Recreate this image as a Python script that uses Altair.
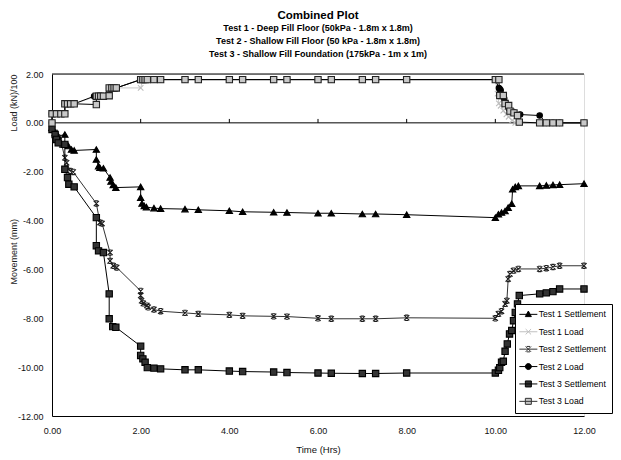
import altair as alt
import pandas as pd

# ---------------- data (time in hrs, value) ----------------
test1_settlement = [(0.0,-0.2),(0.07,-0.41),(0.14,-0.54),(0.29,-0.48),(0.29,-0.88),(0.37,-0.95),(0.44,-1.09),(0.5,-1.13),
    (1.0,-1.09),(1.0,-1.5),(1.05,-1.77),(1.08,-1.84),(1.16,-1.86),(1.31,-2.24),(1.33,-2.4),(1.38,-2.54),(1.44,-2.65),
    (2.0,-2.62),(2.0,-3.06),(2.03,-3.3),(2.08,-3.4),(2.13,-3.45),(2.3,-3.49),(2.45,-3.51),(3.0,-3.53),(3.3,-3.56),
    (4.0,-3.6),(4.3,-3.64),(5.0,-3.66),(5.3,-3.67),(6.0,-3.7),(6.3,-3.7),(7.0,-3.73),(7.3,-3.73),(8.0,-3.76),
    (10.0,-3.88),(10.07,-3.74),(10.14,-3.67),(10.22,-3.61),(10.29,-3.47),(10.37,-3.31),(10.39,-2.72),(10.45,-2.62),
    (10.52,-2.58),(11.0,-2.58),(11.15,-2.56),(11.3,-2.54),(11.45,-2.53),(12.0,-2.49)]

test1_load = [(0.0,0.0),(0.0,0.37),(0.29,0.37),(0.29,0.78),(0.5,0.78),(1.0,1.09),(1.16,1.09),(1.29,1.43),(1.45,1.43),
    (2.0,1.43),(2.05,1.77),(2.3,1.77),(2.45,1.77),(3.0,1.77),(3.3,1.77),(4.0,1.77),(4.3,1.77),(5.0,1.77),(5.3,1.77),
    (6.0,1.77),(6.3,1.77),(7.0,1.77),(7.3,1.77),(8.0,1.77),(10.0,1.77),(10.05,1.2),(10.08,0.8),(10.12,0.7),(10.18,0.5),
    (10.25,0.35),(10.3,0.25),(10.38,0.1),(10.45,0.0),(11.0,0.0),(11.15,0.0),(11.3,0.0),(11.45,0.0),(12.0,0.0)]

test2_settlement = [(0.0,-0.13),(0.07,-0.4),(0.14,-0.6),(0.22,-0.9),(0.29,-1.43),(0.33,-1.63),(0.41,-1.97),(0.48,-2.01),
    (1.0,-3.3),(1.08,-4.08),(1.13,-4.12),(1.31,-5.31),(1.31,-5.65),(1.38,-5.85),(1.46,-5.92),(2.0,-6.88),(2.0,-7.07),
    (2.02,-7.28),(2.06,-7.39),(2.14,-7.48),(2.17,-7.55),(2.3,-7.64),(2.45,-7.71),(3.0,-7.78),(3.3,-7.82),(4.0,-7.86),
    (4.3,-7.9),(5.0,-7.92),(5.3,-7.93),(6.0,-8.0),(6.3,-8.02),(7.0,-8.02),(7.3,-8.02),(8.0,-7.98),(10.0,-8.0),
    (10.07,-7.82),(10.14,-7.71),(10.22,-7.41),(10.26,-7.28),(10.29,-6.39),(10.33,-6.19),(10.41,-6.05),(10.52,-5.98),
    (11.0,-5.98),(11.15,-5.95),(11.3,-5.9),(11.45,-5.85),(12.0,-5.85)]

test2_load = [(0.0,0.0),(0.0,0.37),(0.29,0.37),(0.29,0.78),(0.5,0.78),(0.95,1.09),(1.16,1.09),(1.29,1.43),(1.45,1.43),
    (2.0,1.77),(2.05,1.77),(2.3,1.77),(2.45,1.77),(3.0,1.77),(3.3,1.77),(4.0,1.77),(4.3,1.77),(5.0,1.77),(5.3,1.77),
    (6.0,1.77),(6.3,1.77),(7.0,1.77),(7.3,1.77),(8.0,1.77),(10.0,1.77),(10.08,1.43),(10.1,1.38),(10.12,1.33),(10.2,1.0),
    (10.3,0.6),(10.4,0.45),(10.56,0.34),(11.0,0.3),(11.15,0.0),(11.3,0.0),(11.45,0.0),(12.0,0.0)]

test3_settlement = [(0.0,-0.27),(0.07,-0.48),(0.1,-0.68),(0.14,-0.82),(0.29,-0.88),(0.29,-1.9),(0.35,-2.24),(0.38,-2.51),
    (0.5,-2.62),(1.0,-3.88),(1.0,-5.03),(1.05,-5.24),(1.16,-5.31),(1.29,-7.0),(1.29,-8.02),(1.37,-8.34),(1.44,-8.37),
    (2.0,-9.14),(2.0,-9.52),(2.05,-9.66),(2.1,-9.8),(2.15,-10.02),(2.3,-10.04),(2.45,-10.07),(3.0,-10.11),(3.3,-10.11),
    (4.0,-10.16),(4.3,-10.18),(5.0,-10.2),(5.3,-10.22),(6.0,-10.24),(6.3,-10.25),(7.0,-10.26),(7.3,-10.26),(8.0,-10.24),
    (10.0,-10.24),(10.07,-10.13),(10.1,-10.02),(10.14,-9.8),(10.18,-9.76),(10.22,-9.35),(10.27,-9.05),(10.32,-8.64),
    (10.37,-8.5),(10.41,-8.1),(10.45,-7.76),(10.5,-7.41),(10.54,-7.07),(11.0,-7.0),(11.15,-6.96),(11.3,-6.91),
    (11.45,-6.8),(12.0,-6.8)]

test3_load = [(0.0,0.0),(0.0,0.37),(0.1,0.37),(0.2,0.37),(0.29,0.37),(0.29,0.78),(0.35,0.78),(0.42,0.78),(0.5,0.78),
    (1.0,0.75),(1.0,1.09),(1.05,1.09),(1.1,1.09),(1.16,1.09),(1.29,1.11),(1.29,1.43),(1.35,1.43),(1.4,1.43),(1.45,1.43),
    (2.0,1.77),(2.05,1.77),(2.1,1.77),(2.15,1.77),(2.3,1.77),(2.45,1.77),(3.0,1.77),(3.3,1.77),(4.0,1.77),(4.3,1.77),
    (5.0,1.77),(5.3,1.77),(6.0,1.77),(6.3,1.77),(7.0,1.77),(7.3,1.77),(8.0,1.77),(10.0,1.77),(10.08,1.77),(10.1,1.12),
    (10.18,1.12),(10.22,0.79),(10.3,0.71),(10.33,0.48),(10.42,0.41),(10.5,0.3),(10.54,0.03),(11.0,0.0),(11.15,0.0),
    (11.3,0.0),(11.45,0.0),(12.0,0.0)]

series_names = ["Test 1 Settlement", "Test 1 Load", "Test 2 Settlement", "Test 2 Load",
                "Test 3 Settlement", "Test 3 Load"]
series_data = [test1_settlement, test1_load, test2_settlement, test2_load, test3_settlement, test3_load]
x_ticks = [0, 2, 4, 6, 8, 10, 12]
y_ticks = [-12, -10, -8, -6, -4, -2, 0, 2]

rows = []
for name, pts in zip(series_names, series_data):
    for i, (t, v) in enumerate(pts):
        rows.append({"series": name, "t": t, "v": v, "order": i})
df = pd.DataFrame(rows)

FONT = "Liberation Sans, Arial"
MINUS_FIX = "replace(datum.label, '\u2212', '-')"

XPATH = "M-1,-1L1,1M-1,1L1,-1"
STAR = "M-1,-1L1,1M-1,1L1,-1M-0.6,-1L0.6,-1M-0.6,1L0.6,1"

styles = {
    "Test 1 Settlement": dict(line="black", shape="triangle-up", fill="black", stroke="black", size=40, filled=True),
    "Test 1 Load": dict(line="#c8c8c8", shape=XPATH, fill=None, stroke="#bdbdbd", size=30, filled=False),
    "Test 2 Settlement": dict(line="#333333", shape=STAR, fill=None, stroke="#1e1e1e", size=28, filled=False),
    "Test 2 Load": dict(line="black", shape="circle", fill="black", stroke="black", size=30, filled=True),
    "Test 3 Settlement": dict(line="black", shape="square", fill="#333333", stroke="black", size=40, filled=True),
    "Test 3 Load": dict(line="black", shape="square", fill="#c8c8c8", stroke="#222222", size=40, filled=True),
}

x_enc = alt.X("t:Q", scale=alt.Scale(domain=[0, 12], nice=False, zero=False),
              axis=alt.Axis(values=x_ticks, format=".2f", title="Time (Hrs)", grid=False, ticks=False,
                            domainColor="black", labelFont=FONT, labelFontSize=9, labelColor="#111111",
                            labelPadding=10, labelFlush=False, labelExpr=MINUS_FIX,
                            titleFont=FONT, titleFontSize=9.5, titleFontWeight="normal",
                            titleColor="#111111", titlePadding=9))
ytitle = "Movement\u00a0(mm)" + "\u00a0" * 35 + "Load\u00a0(kN)/100"
y_enc = alt.Y("v:Q", scale=alt.Scale(domain=[-12, 2], nice=False, zero=False),
              axis=alt.Axis(values=y_ticks, format=".2f", title=ytitle, grid=False, ticks=False,
                            domainColor="black", labelFont=FONT, labelFontSize=9, labelColor="#111111",
                            labelPadding=9, labelExpr=MINUS_FIX,
                            titleFont=FONT, titleFontSize=9, titleFontWeight="normal",
                            titleColor="#222222", titleAngle=270, titleAlign="right", titleBaseline="middle",
                            titleX=-39, titleY=0))

base = alt.Chart(df)
layers = []

# frame rules (top border and zero line)
rules_df = pd.DataFrame({"z": [0, 2]})
layers.append(alt.Chart(rules_df).mark_rule(color="black", strokeWidth=1).encode(y=alt.Y("z:Q")))
tick_df = pd.DataFrame({"tx": [2, 4, 6, 8, 10]})
layers.append(alt.Chart(tick_df).mark_rule(color="black", strokeWidth=1).encode(
    x=alt.X("tx:Q"), y=alt.datum(0), y2=alt.datum(0.16)))

for name in series_names:
    st = styles[name]
    sub = base.transform_filter(alt.datum.series == name)
    layers.append(sub.mark_line(color=st["line"], strokeWidth=1).encode(x=x_enc, y=y_enc, order="order:Q"))
    pkw = dict(shape=st["shape"], size=st["size"], stroke=st["stroke"], strokeWidth=1.1, opacity=1,
               filled=st["filled"])
    if st["fill"]:
        pkw["fill"] = st["fill"]
    layers.append(sub.mark_point(**pkw).encode(x=x_enc, y=y_enc))

# legend-only layer (no data drawn)
leg_shapes = [
    "M-3,0L3,0M0,-1.1L1,0.75L-1,0.75Z",
    "M-3,0L3,0M-0.9,-0.9L0.9,0.9M-0.9,0.9L0.9,-0.9",
    "M-3,0L3,0M-0.9,-0.9L0.9,0.9M-0.9,0.9L0.9,-0.9M-0.55,-0.9L0.55,-0.9M-0.55,0.9L0.55,0.9",
    "M-3,0L3,0M1,0A1,1,0,1,1,-1,0A1,1,0,1,1,1,0Z",
    "M-3,0L3,0M-1,-1L1,-1L1,1L-1,1Z",
    "M-3,0L3,0M-1,-1L1,-1L1,1L-1,1Z",
]
leg_fill = ["black", "transparent", "transparent", "black", "#333333", "#c8c8c8"]
leg_stroke = ["black", "#c0c0c0", "#333333", "black", "black", "#333333"]
legend = alt.Legend(orient="none", legendX=463, legendY=230, title=None, padding=6,
                    strokeColor="black", fillColor="white", symbolSize=36, symbolStrokeWidth=1,
                    symbolOffset=3, labelOffset=6, labelFont=FONT, labelFontSize=8.7, labelColor="black",
                    rowPadding=6.4, cornerRadius=0, symbolOpacity=1)
leg_layer = base.transform_filter("datum.t < -100").mark_point(filled=False, strokeWidth=1).encode(
    x=x_enc, y=y_enc,
    shape=alt.Shape("series:N", scale=alt.Scale(domain=series_names, range=leg_shapes), legend=legend),
    fill=alt.Fill("series:N", scale=alt.Scale(domain=series_names, range=leg_fill), legend=legend),
    stroke=alt.Stroke("series:N", scale=alt.Scale(domain=series_names, range=leg_stroke), legend=legend),
)
layers.append(leg_layer)

chart = alt.layer(*layers).properties(
    width=532, height=342,
    autosize=alt.AutoSizeParams(type="none"),
    padding={"left": 44, "top": 66, "right": 29, "bottom": 44},
    title=alt.TitleParams(text="Combined Plot", subtitle=[
        "Test 1 - Deep Fill Floor (50kPa - 1.8m x 1.8m)",
        "Test 2 - Shallow Fill Floor (50 kPa - 1.8m x 1.8m)",
        "Test 3 - Shallow Fill Foundation (175kPa - 1m x 1m)"],
        anchor="middle", font=FONT, fontSize=11.5, fontWeight="bold", color="black",
        subtitleFont=FONT, subtitleFontSize=9, subtitleFontWeight="bold", subtitleColor="black",
        subtitleLineHeight=13, subtitlePadding=3, offset=11),
).configure_view(stroke="#888888", strokeWidth=1).configure(background="white")

chart.save("out.html", embed_options={"renderer": "svg", "actions": False})
